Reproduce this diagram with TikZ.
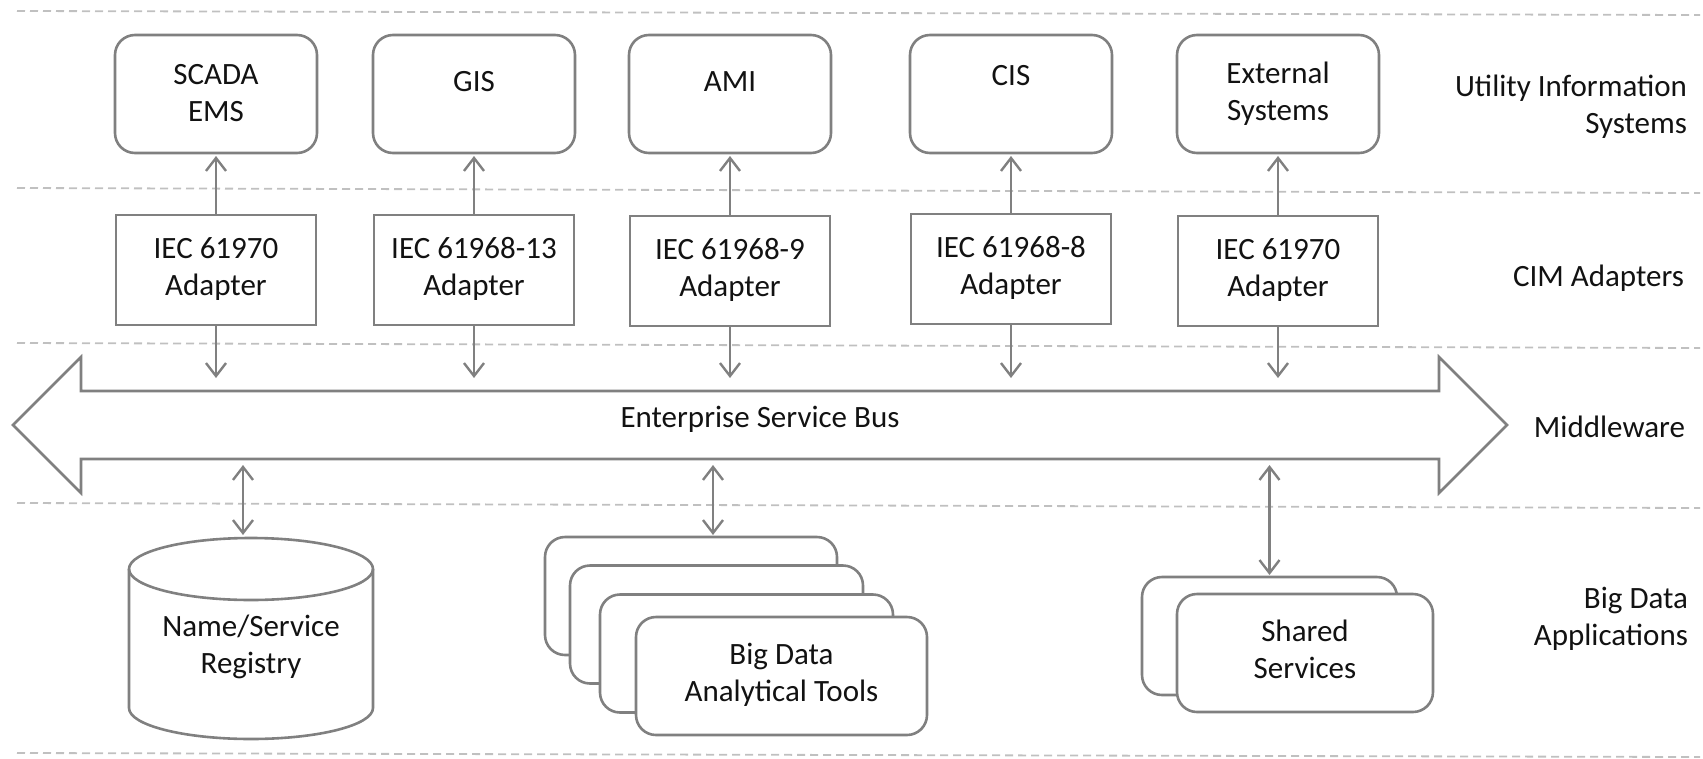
\documentclass[tikz,border=0pt]{standalone}
\usepackage{fontspec}
\setmainfont{Carlito}
\usetikzlibrary{arrows.meta}
\definecolor{edge}{RGB}{128,128,128}
\definecolor{rule}{RGB}{192,192,192}
\definecolor{ink}{RGB}{18,18,18}
\newcommand\lbl{\fontsize{31}{37}\selectfont}

\begin{document}
\begin{tikzpicture}[x=1pt,y=-1pt,
  every node/.style={inner sep=0pt, outer sep=0pt, text=ink, font=\lbl},
  sysbox/.style={draw=edge, line width=2.6pt, rounded corners=20pt, minimum width=202pt, minimum height=118pt},
  adbox/.style={draw=edge, line width=2.6pt, minimum width=200pt, minimum height=110pt, align=center},
  appbox/.style={draw=edge, fill=white, line width=2.6pt, rounded corners=20pt, minimum height=118pt, align=center},
  txt/.style={anchor=north, align=center},
  side/.style={anchor=north east, align=right},
  link/.style={draw=edge, line width=2.4pt, -{Straight Barb[length=13pt,width=20pt]}},
  duplex/.style={draw=edge, line width=2.4pt, {Straight Barb[length=13pt,width=20pt]}-{Straight Barb[length=13pt,width=20pt]}},
  layer/.style={draw=rule, line width=1.8pt, dash pattern=on 8pt off 5pt},
]
\useasboundingbox (0,0) rectangle (1703,758);

% layer separators
\draw[layer] (17,11) -- (1700,15);
\draw[layer] (17,188) -- (1700,193);
\draw[layer] (17,343) -- (1700,348);
\draw[layer] (17,503) -- (1700,508);
\draw[layer] (17,753) -- (1700,757);

% utility information systems
\node[sysbox] (scada) at (216,94) {};
\node[sysbox] (gis) at (474,94) {};
\node[sysbox] (ami) at (730,94) {};
\node[sysbox] (cis) at (1011,94) {};
\node[sysbox] (ext) at (1278,94) {};
\node[txt] (scadaT) at (216,59) {\strut SCADA\\EMS};
\node[txt] (gisT) at (474,66) {\strut GIS};
\node[txt] (amiT) at (730,66) {\strut AMI};
\node[txt] (cisT) at (1011,60) {\strut CIS};
\node[txt] (extT) at (1278,58) {\strut External\\Systems};

% CIM adapters
\node[adbox] (a1) at (216,270) {\strut IEC 61970\\\strut Adapter};
\node[adbox] (a2) at (474,270) {\strut IEC 61968-13\\\strut Adapter};
\node[adbox] (a3) at (730,271) {\strut IEC 61968-9\\\strut Adapter};
\node[adbox] (a4) at (1011,269) {\strut IEC 61968-8\\\strut Adapter};
\node[adbox] (a5) at (1278,271) {\strut IEC 61970\\\strut Adapter};

% enterprise service bus
\draw[edge, line width=2.6pt] (13,425) -- (81,357) -- (81,391) -- (1439,391) -- (1439,357)
  -- (1507,425) -- (1439,493) -- (1439,459) -- (81,459) -- (81,493) -- cycle;
\node[txt] (bus) at (760,402) {\strut Enterprise Service Bus};
\coordinate (busin) at (0,378);
\coordinate (busout) at (0,465);

\foreach \s/\a in {scada/a1, gis/a2, ami/a3, cis/a4, ext/a5} {
  \draw[link, shorten >=3pt] (\a.north) -- (\a.north |- \s.south);
  \draw[link] (\a.south) -- (\a.south |- busin);
}

% name/service registry
\draw[edge, fill=white, line width=2.6pt] (129,569) -- (129,708)
  arc[start angle=180, end angle=360, x radius=122pt, y radius=31pt] -- (373,569);
\draw[edge, line width=2.6pt] (251,569) ellipse [x radius=122pt, y radius=31pt];
\node[align=center] (reg) at (251,648) {\strut Name/Service\\\strut Registry};
\coordinate (regtop) at (243,538);
\draw[duplex, shorten >=3pt] (busout -| regtop) -- (regtop);

% analytical tools
\node[appbox, minimum width=292pt] (t1) at (691,596) {};
\node[appbox, minimum width=293pt] (t2) at (716.5,624.5) {};
\node[appbox, minimum width=293pt] (t3) at (746.5,653.5) {};
\node[appbox, minimum width=291pt] (t4) at (781.5,676) {\strut Big Data\\\strut Analytical Tools};
\coordinate (tooltop) at (713,537);
\draw[duplex, shorten >=2pt] (busout -| tooltop) -- (tooltop);

% shared services
\node[appbox, minimum width=255pt] (sh1) at (1269.5,636) {};
\node[appbox, minimum width=256pt] (sh2) at (1305,653) {\strut Shared\\\strut Services};
\draw[duplex, shorten >=2pt] (busout -| sh1.north) -- (sh1.north);

% layer names
\node[side] (l1) at (1687,71) {\strut Utility Information\\Systems};
\node[side] (l2) at (1684,261) {\strut CIM Adapters};
\node[side] (l3) at (1685,412) {\strut Middleware};
\node[side] (l4) at (1688,583) {\strut Big Data\\Applications};
\end{tikzpicture}
\end{document}
